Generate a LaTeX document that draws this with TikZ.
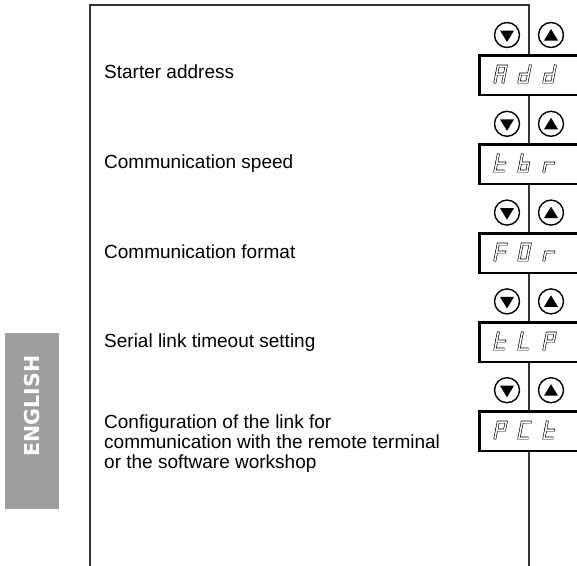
\documentclass[tikz,border=0pt]{standalone}
\usepackage{fontspec}
\setmainfont{Liberation Sans}
\newfontfamily\tabfont{DejaVu Sans}
\newcommand{\sgA}{\draw[segline] (0pt,0pt)--(0pt,16pt)--(8pt,16pt)--(8pt,0pt) (0pt,8pt)--(8pt,8pt);}
\newcommand{\sgd}{\draw[segline] (8pt,16pt)--(8pt,0pt)--(0pt,0pt)--(0pt,8pt)--(8pt,8pt);}
\newcommand{\sgt}{\draw[segline] (0pt,16pt)--(0pt,0pt)--(8pt,0pt) (0pt,8pt)--(8pt,8pt);}
\newcommand{\sgb}{\draw[segline] (0pt,16pt)--(0pt,0pt)--(8pt,0pt)--(8pt,8pt)--(0pt,8pt);}
\newcommand{\sgr}{\draw[segline] (0pt,0pt)--(0pt,8pt)--(8pt,8pt);}
\newcommand{\sgF}{\draw[segline] (0pt,0pt)--(0pt,16pt)--(8pt,16pt) (0pt,8pt)--(8pt,8pt);}
\newcommand{\sgO}{\draw[segline] (0pt,0pt)--(0pt,16pt)--(8pt,16pt)--(8pt,0pt)--cycle;}
\newcommand{\sgL}{\draw[segline] (0pt,16pt)--(0pt,0pt)--(8pt,0pt);}
\newcommand{\sgP}{\draw[segline] (0pt,0pt)--(0pt,16pt)--(8pt,16pt)--(8pt,8pt)--(0pt,8pt);}
\newcommand{\sgC}{\draw[segline] (8pt,16pt)--(0pt,16pt)--(0pt,0pt)--(8pt,0pt);}
\newcommand{\placech}[3]{\begin{scope}[shift={(#1,#2)},xslant=0.2]#3\end{scope}}
\begin{document}
\begin{tikzpicture}[x=1pt,y=-1pt,
  frameline/.style={draw=black!80, line width=1.3pt},
  dispbox/.style={draw=black, line width=2.6pt, fill=white, rectangle, inner sep=0pt, minimum width=110pt, minimum height=39.4pt, anchor=north west},
  keycircle/.style={draw=black, line width=1.4pt, fill=white, circle, inner sep=0pt, minimum size=25pt},
  keytri/.style={fill=black},
  segline/.style={draw=black, double=white, double distance=1.5pt, line width=0.65pt, line cap=rect, line join=miter},
  lbl/.style={font=\fontsize{19}{20}\selectfont, inner sep=0pt, anchor=base west, align=left},
]
\useasboundingbox (0,0) rectangle (577,565);
\clip (0,0) rectangle (577,565);
% language tab
\fill[black!38] (5,333) rectangle (59,509);
\node[rotate=90, text=white, font=\tabfont\fontsize{20.5}{21}\selectfont\bfseries, inner sep=0pt] (eng) at (32,406) {ENGLISH};
% frame
\coordinate (ftl) at (90,5);
\coordinate (ftr) at (529,5);
\coordinate (fbl) at (90,566);
\coordinate (fbr) at (529,566);
\draw[frameline] (fbl) -- (ftl) -- (ftr) -- (fbr);
% keys
\foreach \i in {0,...,4} {
  \pgfmathsetmacro\yb{35+88.8*\i}
  \node[keycircle] (dn\i) at (507,\yb) {};
  \node[keycircle] (up\i) at (551,\yb) {};
  \fill[keytri] ([shift={(-7,-4.5)}]dn\i.center) -- ([shift={(7,-4.5)}]dn\i.center) -- ([shift={(0,7)}]dn\i.center) -- cycle;
  \fill[keytri] ([shift={(-7,5.5)}]up\i.center) -- ([shift={(7,5.5)}]up\i.center) -- ([shift={(0,-6)}]up\i.center) -- cycle;
}
% display boxes
\node[dispbox] (bAdd) at (478.3,54.3) {};
\node[dispbox] (btbr) at (478.3,143.3) {};
\node[dispbox] (bFOr) at (478.3,232.3) {};
\node[dispbox] (btLP) at (478.3,321.3) {};
\node[dispbox] (bPCt) at (478.3,410.3) {};
% display characters
\placech{495}{82}{\sgA}\placech{519}{82}{\sgd}\placech{544}{82}{\sgd}
\placech{495}{171}{\sgt}\placech{519}{171}{\sgb}\placech{544}{171}{\sgr}
\placech{495}{260}{\sgF}\placech{519}{260}{\sgO}\placech{544}{260}{\sgr}
\placech{495}{349}{\sgt}\placech{519}{349}{\sgL}\placech{544}{349}{\sgP}
\placech{495}{438}{\sgP}\placech{519}{438}{\sgC}\placech{544}{438}{\sgt}
% labels
\node[lbl] (lAdd) at (104,78.5) {Starter address};
\node[lbl] (ltbr) at (104,168.5) {Communication speed};
\node[lbl] (lFOr) at (104,258.5) {Communication format};
\node[lbl] (ltLP) at (104,347.5) {Serial link timeout setting};
\node[lbl, anchor=north west] (lPCt) at (104,414.8) {Configuration of the link for\\communication with the remote terminal\\or the software workshop};
\end{tikzpicture}
\end{document}
